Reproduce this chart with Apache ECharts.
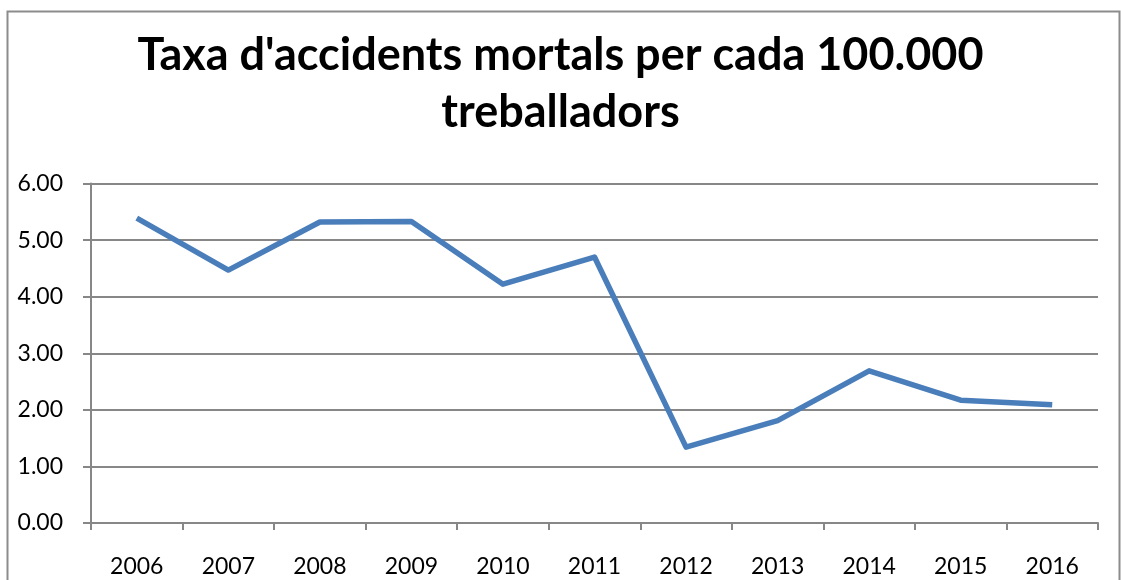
<!DOCTYPE html>
<html>
<head>
<meta charset="utf-8">
<script src="https://cdn.jsdelivr.net/npm/echarts@6/dist/echarts.min.js"></script>
<style>html,body{margin:0;padding:0;background:#fff}#c{width:1121px;height:580px}</style>
</head>
<body>
<div id="c"></div>
<script>
var titleText = "Taxa d'accidents mortals per cada 100.000\ntreballadors";
var years = ["2006","2007","2008","2009","2010","2011","2012","2013","2014","2015","2016"];
var rates = [5.39, 4.47, 5.32, 5.33, 4.22, 4.70, 1.34, 1.81, 2.69, 2.17, 2.09];
var yTicks = [0, 1, 2, 3, 4, 5, 6];

var chart = echarts.init(document.getElementById('c'), null, {renderer: 'canvas'});
var gray = '#878787';
chart.setOption({
  animation: false,
  backgroundColor: '#fff',
  graphic: [{
    type: 'rect', left: 5, top: 9, z: -1,
    shape: {x: 0, y: 0, width: 1112, height: 600},
    style: {fill: 'none', stroke: '#8c8c8c', lineWidth: 2}
  }],
  title: {
    text: titleText, left: 'center', top: 22,
    textStyle: {fontFamily: 'Lato', fontWeight: 'bold', fontSize: 45, color: '#000', lineHeight: 57}
  },
  grid: {left: 91, top: 183.5, right: 23, bottom: 57, containLabel: false},
  xAxis: {
    type: 'category', data: years, boundaryGap: true,
    axisLine: {lineStyle: {color: gray, width: 2}},
    axisTick: {show: true, length: 7, lineStyle: {color: gray, width: 2}, alignWithLabel: false},
    axisLabel: {fontFamily: 'Lato', fontSize: 23, color: '#000', margin: 32}
  },
  yAxis: {
    type: 'value', min: yTicks[0], max: yTicks[yTicks.length - 1], interval: 1,
    axisLine: {show: true, lineStyle: {color: gray, width: 2}},
    axisTick: {show: true, length: 8, lineStyle: {color: gray, width: 2}},
    splitLine: {lineStyle: {color: gray, width: 2}},
    axisLabel: {fontFamily: 'Lato', fontSize: 23, color: '#000', margin: 28,
      formatter: function (v) { return v.toFixed(2); }}
  },
  series: [{
    type: 'line', data: rates, symbol: 'none',
    lineStyle: {color: '#4a7ebb', width: 5.5, join: 'round'},
    itemStyle: {color: '#4a7ebb'}
  }]
});
</script>
</body>
</html>
